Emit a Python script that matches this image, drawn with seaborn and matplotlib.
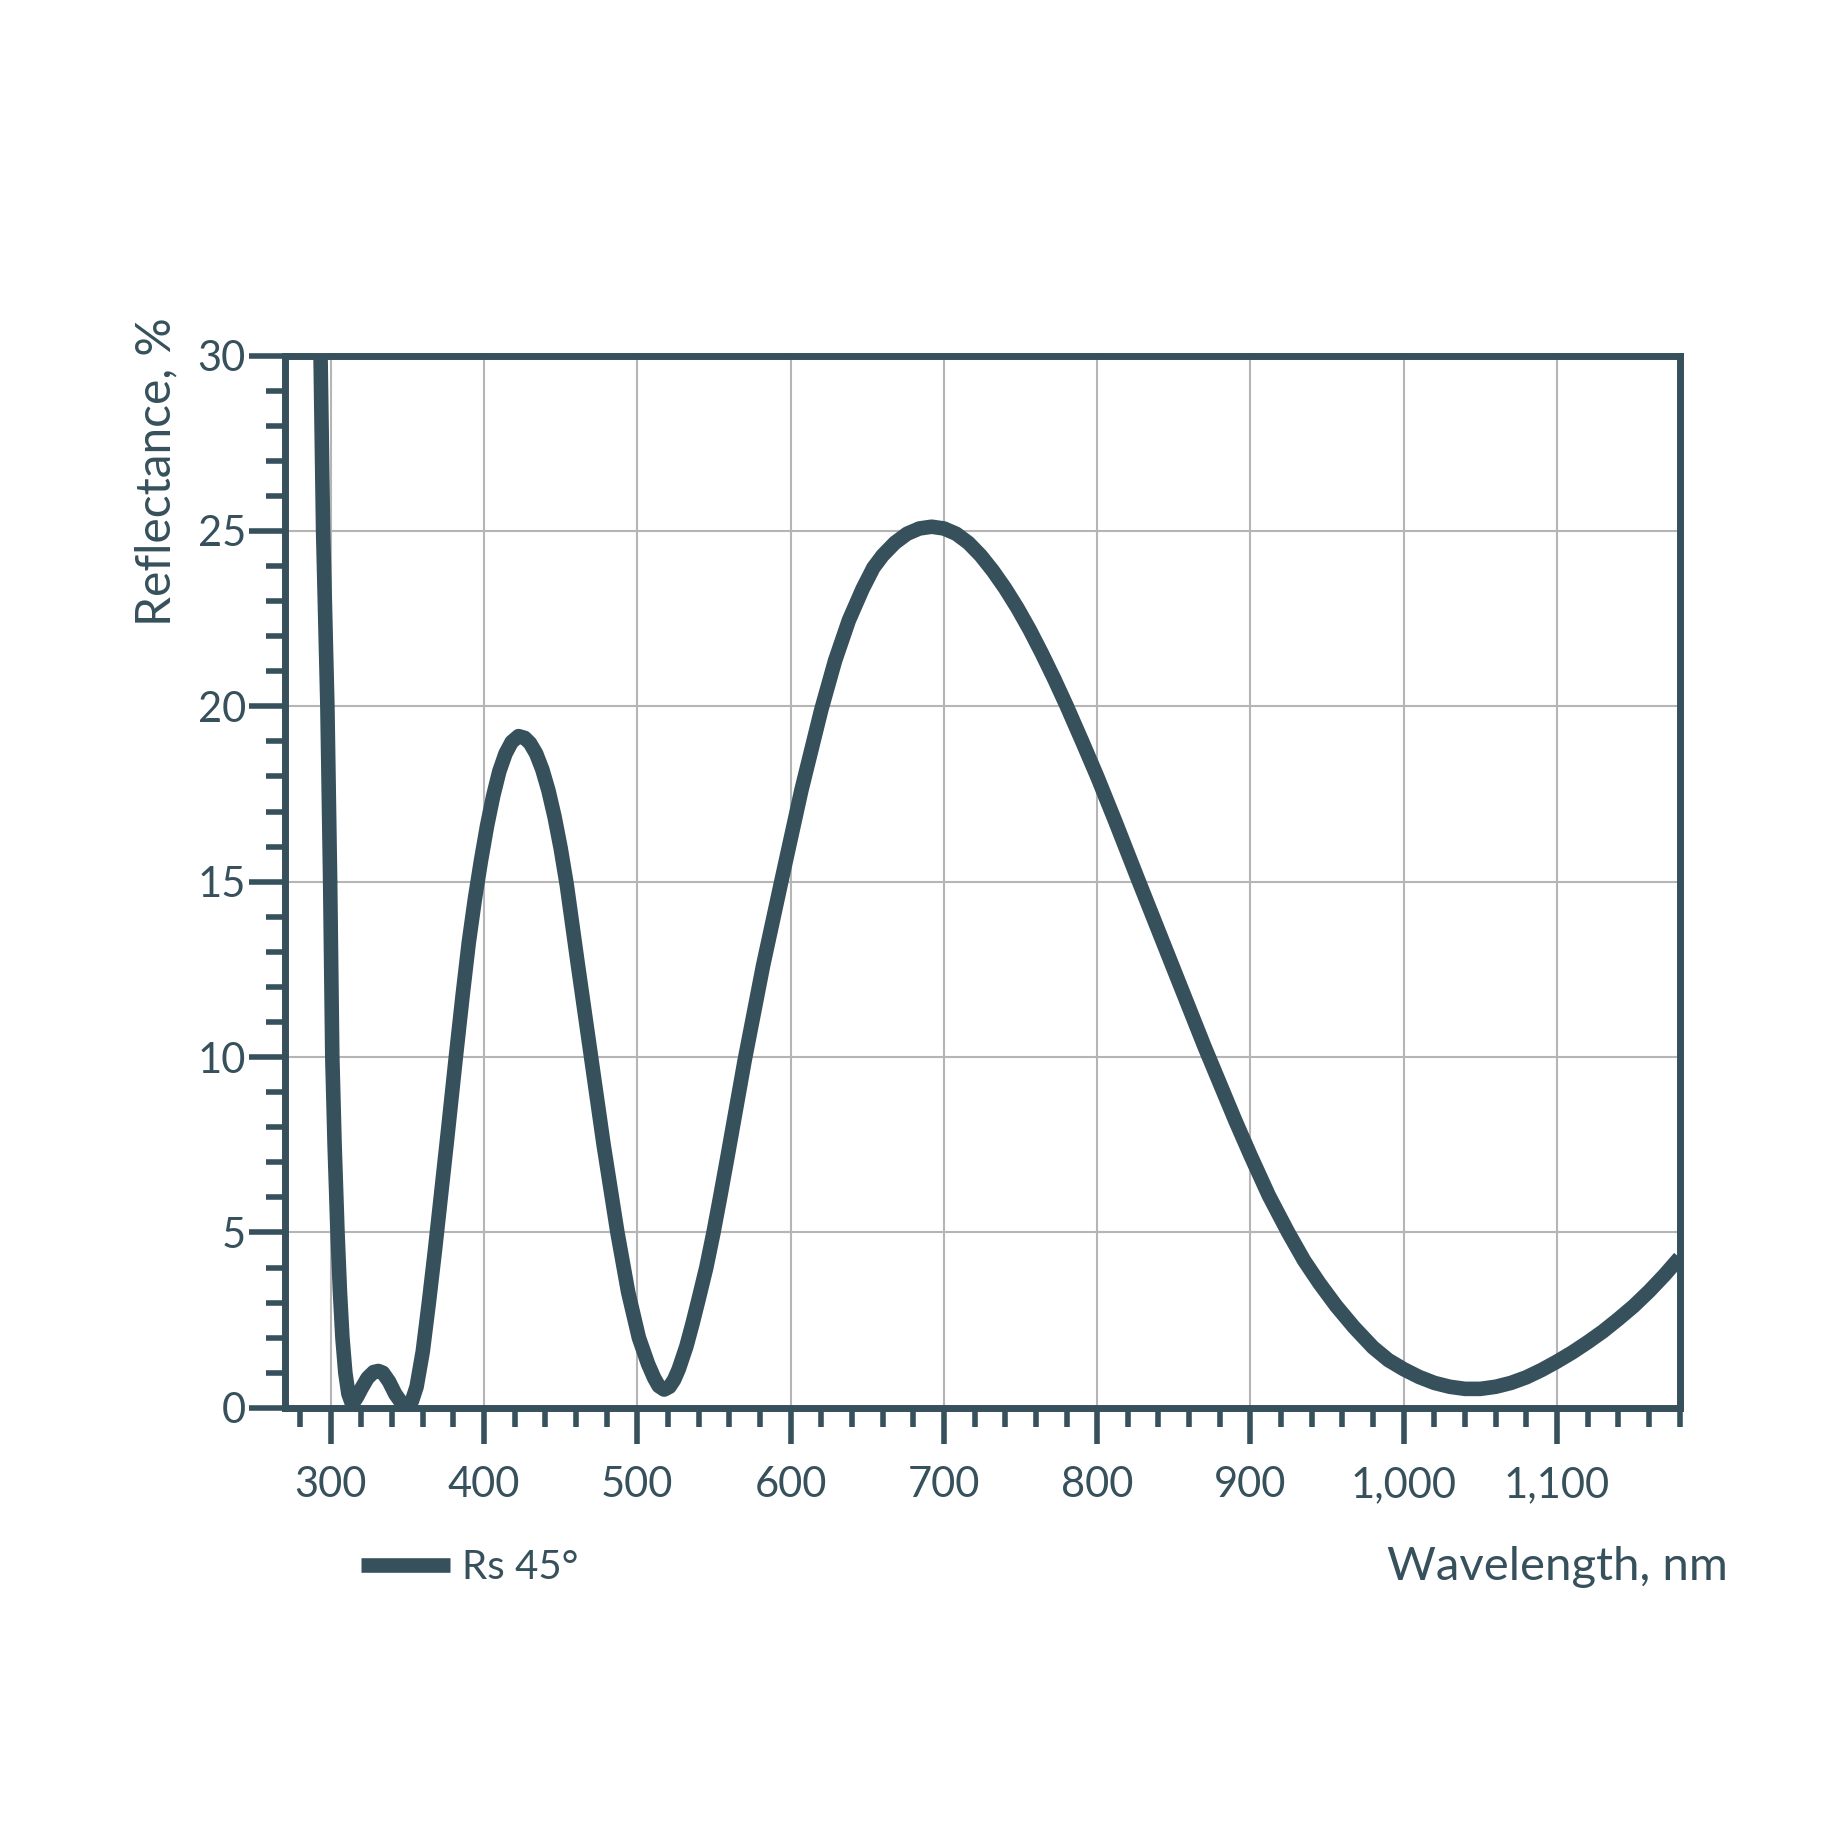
"""Reflectance curve of a coated mirror, Rs at 45 degrees."""

import matplotlib

matplotlib.use("Agg")
import matplotlib.pyplot as plt
import seaborn as sns
from matplotlib.ticker import FuncFormatter, MultipleLocator

# Values (nm, %)
wavelength = [
    290, 293.3, 295, 297.8, 299.6, 301, 302.5, 304.4, 306, 307.6, 309.5,
    311.5, 314, 317, 320, 324, 328, 331, 334, 338, 342, 346, 350, 353, 356,
    360, 364, 368, 372, 376, 381.6, 386, 390, 394, 398, 402, 406, 410, 414,
    418, 422.5, 426.5, 430, 434, 438, 442, 446, 450, 454, 461, 469.8,
    478, 487, 494, 501, 507, 511, 514, 517.5, 521, 524, 527, 532, 536, 540,
    545, 549.7, 554, 559, 570, 582, 594.4, 607, 620, 629, 638, 647, 654, 660,
    668, 676, 684, 692, 700, 708, 716, 724, 732, 740, 748, 756, 764, 772,
    780, 790, 800, 812, 826.8, 840, 850, 860, 870, 880, 890, 900, 912, 924.6,
    935, 945, 956, 967.5, 980, 990, 1000, 1010, 1020, 1030, 1040, 1050, 1060,
    1070, 1080, 1090, 1100, 1110, 1120, 1130, 1140, 1150, 1160, 1170, 1180,
]
reflectance = [
    40, 30, 25, 20, 15, 10, 7.5, 5, 3.3, 2, 1.0,
    0.4, 0.1, 0.3, 0.55, 0.85, 1.02, 1.05, 1.0, 0.75, 0.4, 0.15, 0.05, 0.2, 0.6,
    1.6, 3.0, 4.5, 6.1, 7.7, 10, 11.75, 13.25, 14.5, 15.6, 16.6, 17.45, 18.15, 18.65,
    18.98, 19.15, 19.1, 18.95, 18.65, 18.2, 17.6, 16.85, 15.95, 14.9, 12.7, 10,
    7.5, 5, 3.3, 2, 1.25, 0.85, 0.62, 0.52, 0.6, 0.8, 1.1, 1.75, 2.4, 3.1,
    4.0, 5.0, 6.0, 7.2, 9.9, 12.6, 15.1, 17.6, 19.9, 21.3, 22.45, 23.35, 23.95, 24.3,
    24.66, 24.92, 25.07, 25.12, 25.07, 24.92, 24.66, 24.3, 23.86, 23.36, 22.8, 22.18, 21.5, 20.78,
    20.02, 19.02, 18.0, 16.7, 15.05, 13.6, 12.5, 11.4, 10.3, 9.25, 8.2, 7.2, 6.05, 5.0,
    4.2, 3.55, 2.9, 2.3, 1.72, 1.36, 1.1, 0.88, 0.71, 0.6, 0.54, 0.54, 0.6,
    0.71, 0.87, 1.08, 1.32, 1.58, 1.87, 2.18, 2.53, 2.9, 3.32, 3.78, 4.28,
]
series_label = "Rs 45°"
x_major_ticks = [300, 400, 500, 600, 700, 800, 900, 1000, 1100]
y_major_ticks = [0, 5, 10, 15, 20, 25, 30]

DARK = "#36505c"
GRID = "#b5b5b5"


def main():
    sns.set_theme(style="white")
    plt.rcParams["font.family"] = ["Lato", "DejaVu Sans"]

    fig = plt.figure(figsize=(18.48, 18.48), dpi=100)
    ax = fig.add_axes([0.1541, 0.2382, 0.7548, 0.5694])

    sns.lineplot(x=wavelength, y=reflectance, ax=ax, color=DARK,
                 linewidth=10.5, legend=False)
    line = ax.get_lines()[0]
    line.set_label(series_label)
    line.set_solid_joinstyle("round")
    line.set_solid_capstyle("butt")

    ax.set_xlim(270, 1180)
    ax.set_ylim(0, 30)
    ax.set_xticks(x_major_ticks)
    ax.set_yticks(y_major_ticks)
    ax.xaxis.set_minor_locator(MultipleLocator(20))
    ax.yaxis.set_minor_locator(MultipleLocator(1))
    ax.xaxis.set_major_formatter(FuncFormatter(lambda v, p: f"{int(v):,}"))

    ax.grid(True, which="major", color=GRID, linewidth=1.5)
    ax.set_axisbelow(True)

    for spine in ax.spines.values():
        spine.set_visible(True)
        spine.set_color(DARK)
        spine.set_linewidth(5)

    ax.tick_params(axis="both", which="both", direction="out", color=DARK,
                   width=4, labelcolor=DARK, labelsize=30,
                   bottom=True, left=True, top=False, right=False)
    ax.tick_params(axis="both", which="major", length=26)
    ax.tick_params(axis="both", which="minor", length=14)
    ax.tick_params(axis="x", which="major", pad=16)
    ax.tick_params(axis="y", which="major", pad=2)
    ax.set_xlabel("")
    ax.set_ylabel("")

    fig.text(0.0845, 0.7446, "Reflectance, %", rotation=90, ha="center",
             va="center", fontsize=34.5, color=DARK)
    fig.text(0.935, 0.1452, "Wavelength, nm", ha="right", va="baseline",
             fontsize=34, color=DARK)

    fig.legend(handles=[line], loc="center left",
               bbox_to_anchor=(0.176, 0.152), frameon=False, fontsize=29,
               handlelength=2.2, handletextpad=0.3, labelcolor=DARK)

    fig.savefig("out.png", dpi=100, facecolor="white")
    plt.close(fig)


if __name__ == "__main__":
    main()
